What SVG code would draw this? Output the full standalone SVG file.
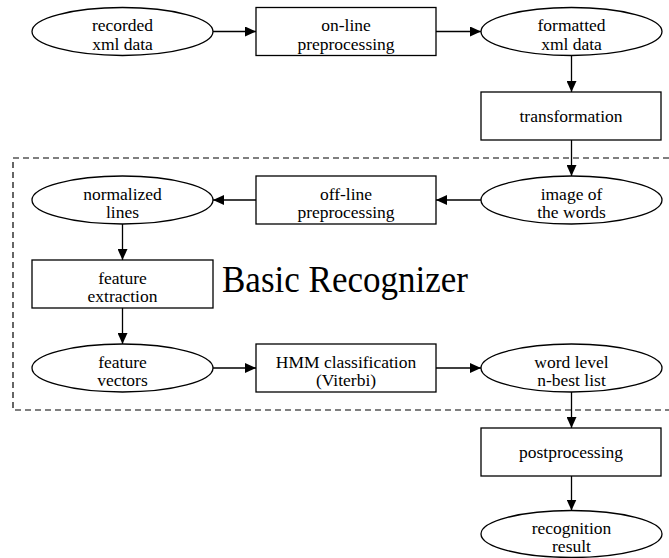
<svg xmlns="http://www.w3.org/2000/svg" width="669" height="558" viewBox="0 0 669 558">
<style>
.n{fill:#fff;stroke:#000;stroke-width:1.3}
.t{font-size:17.5px;fill:#000;text-anchor:middle}
.e{fill:none;stroke:#000;stroke-width:1.3}
.big{font-size:38px;fill:#000}
</style>
<defs>
<marker id="ah" markerWidth="11" markerHeight="10" refX="11" refY="5" orient="auto" markerUnits="userSpaceOnUse">
<path d="M0,0 L11,5 L0,10 z" fill="#000"/>
</marker>
</defs>
<rect width="669" height="558" fill="#fff"/>
<g font-family="'Liberation Serif', 'Times New Roman', 'DejaVu Serif', serif">
<g id="cluster">
<polyline points="669,158 13,158 13,410 669,410" fill="none" stroke="#000" stroke-width="1.2" stroke-dasharray="6,4"/>
<text class="big" x="222" y="292" textLength="246" lengthAdjust="spacingAndGlyphs">Basic Recognizer</text>
</g>
<g id="connectors">
<line class="e" x1="213" y1="31.5" x2="256" y2="31.5" marker-end="url(#ah)"/>
<line class="e" x1="436" y1="31.5" x2="481" y2="31.5" marker-end="url(#ah)"/>
<line class="e" x1="571.5" y1="55.5" x2="571.5" y2="92" marker-end="url(#ah)"/>
<line class="e" x1="571.5" y1="140" x2="571.5" y2="176" marker-end="url(#ah)"/>
<line class="e" x1="481" y1="200" x2="436" y2="200" marker-end="url(#ah)"/>
<line class="e" x1="256" y1="200" x2="213" y2="200" marker-end="url(#ah)"/>
<line class="e" x1="122.5" y1="224" x2="122.5" y2="260" marker-end="url(#ah)"/>
<line class="e" x1="122.5" y1="308" x2="122.5" y2="344" marker-end="url(#ah)"/>
<line class="e" x1="213" y1="368" x2="256" y2="368" marker-end="url(#ah)"/>
<line class="e" x1="436" y1="368" x2="481" y2="368" marker-end="url(#ah)"/>
<line class="e" x1="571.5" y1="392" x2="571.5" y2="428" marker-end="url(#ah)"/>
<line class="e" x1="571.5" y1="476" x2="571.5" y2="510.5" marker-end="url(#ah)"/>
</g>
<g id="recorded">
<ellipse class="n" cx="122.5" cy="31.5" rx="90.5" ry="24"/>
<text class="t" x="122.5" y="31">recorded</text>
<text class="t" x="122.5" y="49.5">xml data</text>
</g>
<g id="online">
<rect class="n" x="256" y="7.5" width="180" height="48"/>
<text class="t" x="346" y="31">on-line</text>
<text class="t" x="346" y="49.5">preprocessing</text>
</g>
<g id="formatted">
<ellipse class="n" cx="571.5" cy="31.5" rx="90.5" ry="24"/>
<text class="t" x="571.5" y="31">formatted</text>
<text class="t" x="571.5" y="49.5">xml data</text>
</g>
<g id="transformation">
<rect class="n" x="481" y="92" width="180" height="48"/>
<text class="t" x="571" y="122">transformation</text>
</g>
<g id="image">
<ellipse class="n" cx="571.5" cy="200" rx="90.5" ry="24"/>
<text class="t" x="571.5" y="199.5">image of</text>
<text class="t" x="571.5" y="218">the words</text>
</g>
<g id="offline">
<rect class="n" x="256" y="176" width="180" height="48"/>
<text class="t" x="346" y="199.5">off-line</text>
<text class="t" x="346" y="218">preprocessing</text>
</g>
<g id="normalized">
<ellipse class="n" cx="122.5" cy="200" rx="90.5" ry="24"/>
<text class="t" x="122.5" y="199.5">normalized</text>
<text class="t" x="122.5" y="218">lines</text>
</g>
<g id="featureextraction">
<rect class="n" x="32" y="260" width="181" height="48"/>
<text class="t" x="122.5" y="283.5">feature</text>
<text class="t" x="122.5" y="302">extraction</text>
</g>
<g id="featurevectors">
<ellipse class="n" cx="122.5" cy="368" rx="90.5" ry="24"/>
<text class="t" x="122.5" y="367.5">feature</text>
<text class="t" x="122.5" y="386">vectors</text>
</g>
<g id="hmm">
<rect class="n" x="256" y="344" width="180" height="48"/>
<text class="t" x="346" y="367.5">HMM classification</text>
<text class="t" x="346" y="386">(Viterbi)</text>
</g>
<g id="wordlevel">
<ellipse class="n" cx="571.5" cy="368" rx="90.5" ry="24"/>
<text class="t" x="571.5" y="367.5">word level</text>
<text class="t" x="571.5" y="386">n-best list</text>
</g>
<g id="postprocessing">
<rect class="n" x="481" y="428" width="180" height="48"/>
<text class="t" x="571" y="458">postprocessing</text>
</g>
<g id="recognition">
<ellipse class="n" cx="571.5" cy="534" rx="90.5" ry="23.5"/>
<text class="t" x="571.5" y="533.5">recognition</text>
<text class="t" x="571.5" y="552">result</text>
</g>
</g>
</svg>
